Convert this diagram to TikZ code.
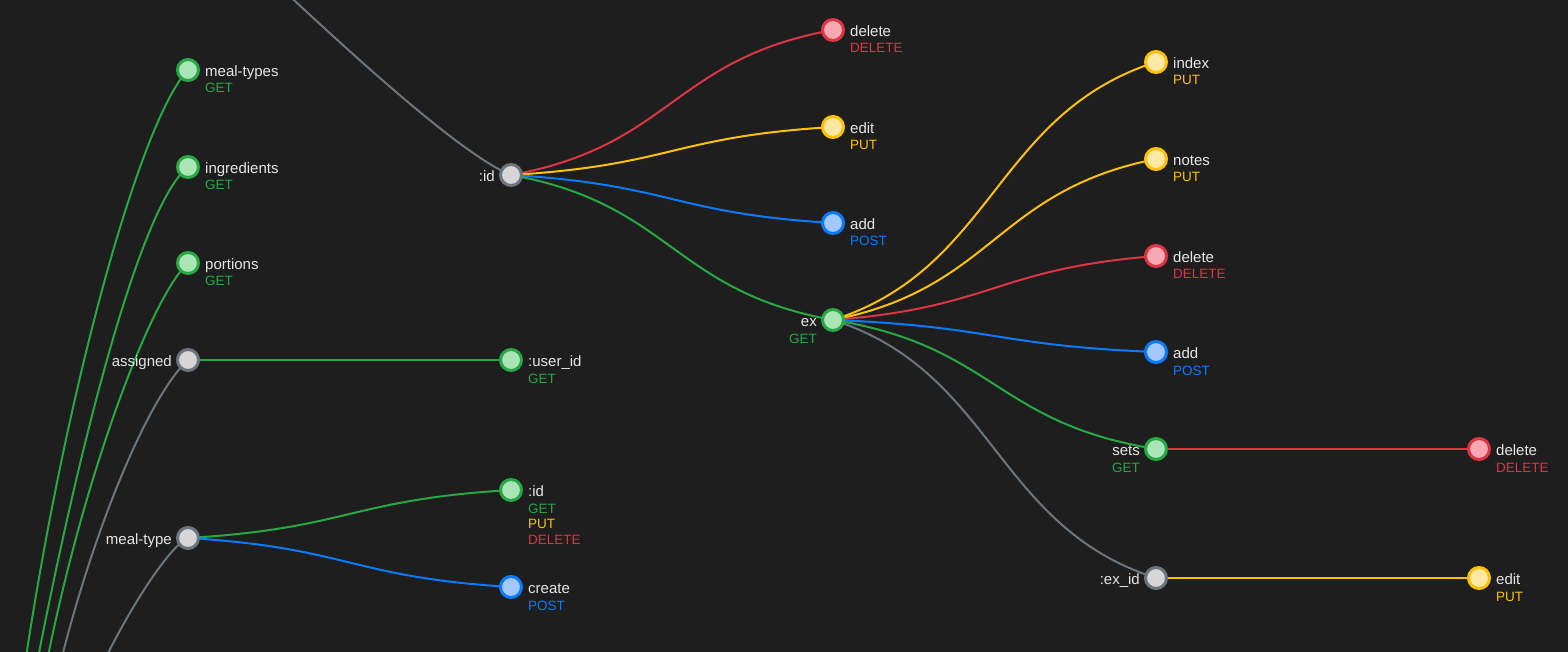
\documentclass[tikz,border=0pt]{standalone}
\usepackage{fontspec}
\setmainfont{Liberation Sans}
\usetikzlibrary{calc,backgrounds}
\definecolor{bg}{HTML}{1E1E1E}
\definecolor{cgreen}{HTML}{28A745}
\definecolor{fgreen}{HTML}{A9E5B6}
\definecolor{cred}{HTML}{DC3545}
\definecolor{fred}{HTML}{F8A8B3}
\definecolor{cyel}{HTML}{FFC107}
\definecolor{fyel}{HTML}{FFE8A3}
\definecolor{cblue}{HTML}{0A7BFF}
\definecolor{fblue}{HTML}{A3C8FE}
\definecolor{cgray}{HTML}{6C757D}
\definecolor{fgray}{HTML}{D6D6D6}
\definecolor{txt}{HTML}{E6E6E6}
\tikzset{
  nd/.style={circle, minimum size=21pt, inner sep=0pt, line width=3pt},
  ngreen/.style={nd, draw=cgreen, fill=fgreen},
  nred/.style={nd, draw=cred, fill=fred},
  nyel/.style={nd, draw=cyel, fill=fyel},
  nblue/.style={nd, draw=cblue, fill=fblue},
  ngray/.style={nd, draw=cgray, fill=fgray},
  lblr/.style={text=txt, font=\fontsize{15}{18}\selectfont, inner sep=0pt, anchor=base west},
  lbll/.style={text=txt, font=\fontsize{15}{18}\selectfont, inner sep=0pt, anchor=base east},
  methr/.style={font=\fontsize{13.5}{16}\selectfont, inner sep=0pt, anchor=base west},
  methl/.style={font=\fontsize{13.5}{16}\selectfont, inner sep=0pt, anchor=base east},
  edge/.style={line width=2pt},
}
\newcommand\lnk[3]{\draw[edge,#3] let \p1=(#1.center), \p2=(#2.center) in (#1.center) .. controls ({0.5*\x1+0.5*\x2},{0.8*\y1+0.2*\y2}) and ({0.5*\x1+0.5*\x2},{0.2*\y1+0.8*\y2}) .. (#2.center);}
\begin{document}
\begin{tikzpicture}[x=1pt,y=-1pt]
\useasboundingbox (0,0) rectangle (1568,652);
% nodes
\node[ngreen] (mt)  at (188,70) {};
\node[ngreen] (ing) at (188,167) {};
\node[ngreen] (por) at (188,263) {};
\node[ngray]  (asg) at (188,360) {};
\node[ngray]  (mty) at (188,538) {};
\node[ngray]  (idt) at (511,175) {};
\node[ngreen] (uid) at (511,360) {};
\node[ngreen] (idm) at (511,490) {};
\node[nblue]  (cre) at (511,587) {};
\node[nred]   (del1) at (833,30) {};
\node[nyel]   (edt1) at (833,127) {};
\node[nblue]  (add1) at (833,223) {};
\node[ngreen] (ex)   at (833,320) {};
\node[nyel]   (idx)  at (1156,62) {};
\node[nyel]   (nts)  at (1156,159) {};
\node[nred]   (del2) at (1156,256) {};
\node[nblue]  (add2) at (1156,352) {};
\node[ngreen] (sets) at (1156,449) {};
\node[ngray]  (exid) at (1156,578) {};
\node[nred]   (del3) at (1479,449) {};
\node[nyel]   (edt2) at (1479,578) {};
% labels
\node[lblr] (mt-t) at ($(mt)+(17,6.5)$) {meal-types};
\node[methr,text=cgreen] (mt-m) at ($(mt)+(17,23)$) {GET};
\node[lblr] (ing-t) at ($(ing)+(17,6.5)$) {ingredients};
\node[methr,text=cgreen] (ing-m) at ($(ing)+(17,23)$) {GET};
\node[lblr] (por-t) at ($(por)+(17,6.5)$) {portions};
\node[methr,text=cgreen] (por-m) at ($(por)+(17,23)$) {GET};
\node[lbll] (asg-t) at ($(asg)+(-16,6.5)$) {assigned};
\node[lbll] (mty-t) at ($(mty)+(-16,6.5)$) {meal-type};
\node[lbll] (idt-t) at ($(idt)+(-16,6.5)$) {:id};
\node[lblr] (uid-t) at ($(uid)+(17,6.5)$) {:user\_id};
\node[methr,text=cgreen] (uid-m) at ($(uid)+(17,23)$) {GET};
\node[lblr] (idm-t) at ($(idm)+(17,6.5)$) {:id};
\node[methr,text=cgreen] (idm-m1) at ($(idm)+(17,23)$) {GET};
\node[methr,text=cyel] (idm-m2) at ($(idm)+(17,38.5)$) {PUT};
\node[methr,text=cred] (idm-m3) at ($(idm)+(17,54)$) {DELETE};
\node[lblr] (cre-t) at ($(cre)+(17,6.5)$) {create};
\node[methr,text=cblue] (cre-m) at ($(cre)+(17,23)$) {POST};
\node[lblr] (del1-t) at ($(del1)+(17,6.5)$) {delete};
\node[methr,text=cred] (del1-m) at ($(del1)+(17,23)$) {DELETE};
\node[lblr] (edt1-t) at ($(edt1)+(17,6.5)$) {edit};
\node[methr,text=cyel] (edt1-m) at ($(edt1)+(17,23)$) {PUT};
\node[lblr] (add1-t) at ($(add1)+(17,6.5)$) {add};
\node[methr,text=cblue] (add1-m) at ($(add1)+(17,23)$) {POST};
\node[lbll] (ex-t) at ($(ex)+(-16,6.5)$) {ex};
\node[methl,text=cgreen] (ex-m) at ($(ex)+(-16,23)$) {GET};
\node[lblr] (idx-t) at ($(idx)+(17,6.5)$) {index};
\node[methr,text=cyel] (idx-m) at ($(idx)+(17,23)$) {PUT};
\node[lblr] (nts-t) at ($(nts)+(17,6.5)$) {notes};
\node[methr,text=cyel] (nts-m) at ($(nts)+(17,23)$) {PUT};
\node[lblr] (del2-t) at ($(del2)+(17,6.5)$) {delete};
\node[methr,text=cred] (del2-m) at ($(del2)+(17,23)$) {DELETE};
\node[lblr] (add2-t) at ($(add2)+(17,6.5)$) {add};
\node[methr,text=cblue] (add2-m) at ($(add2)+(17,23)$) {POST};
\node[lbll] (sets-t) at ($(sets)+(-16,6.5)$) {sets};
\node[methl,text=cgreen] (sets-m) at ($(sets)+(-16,23)$) {GET};
\node[lbll] (exid-t) at ($(exid)+(-16,6.5)$) {:ex\_id};
\node[lblr] (del3-t) at ($(del3)+(17,6.5)$) {delete};
\node[methr,text=cred] (del3-m) at ($(del3)+(17,23)$) {DELETE};
\node[lblr] (edt2-t) at ($(edt2)+(17,6.5)$) {edit};
\node[methr,text=cyel] (edt2-m) at ($(edt2)+(17,23)$) {PUT};
% off-picture ends
\coordinate (e0) at (240,-50);
\coordinate (e1) at (19.7,700);
\coordinate (e2) at (29.9,700);
\coordinate (e3) at (39.7,700);
\coordinate (e4) at (51.6,700);
\coordinate (e5) at (87,700);
\begin{scope}[on background layer]
\fill[bg] (0,0) rectangle (1568,652);
\clip (0,0) rectangle (1568,652);
\draw[edge,cgray] (idt.center) .. controls (451,151) and (300,5) .. (e0);
\draw[edge,cgreen] (mt.center) .. controls (140,120) and (62,400) .. (e1);
\draw[edge,cgreen] (ing.center) .. controls (140,205) and (77,450) .. (e2);
\draw[edge,cgreen] (por.center) .. controls (148,300) and (75,500) .. (e3);
\draw[edge,cgray] (asg.center) .. controls (145,400) and (85,550) .. (e4);
\draw[edge,cgray] (mty.center) .. controls (165,548) and (110,640) .. (e5);
\lnk{asg}{uid}{cgreen}
\lnk{mty}{idm}{cgreen}
\lnk{mty}{cre}{cblue}
\lnk{idt}{del1}{cred}
\lnk{idt}{edt1}{cyel}
\lnk{idt}{add1}{cblue}
\lnk{idt}{ex}{cgreen}
\lnk{ex}{idx}{cyel}
\lnk{ex}{nts}{cyel}
\lnk{ex}{del2}{cred}
\lnk{ex}{add2}{cblue}
\lnk{ex}{sets}{cgreen}
\lnk{ex}{exid}{cgray}
\lnk{sets}{del3}{cred}
\lnk{exid}{edt2}{cyel}
\end{scope}
\end{tikzpicture}
\end{document}
